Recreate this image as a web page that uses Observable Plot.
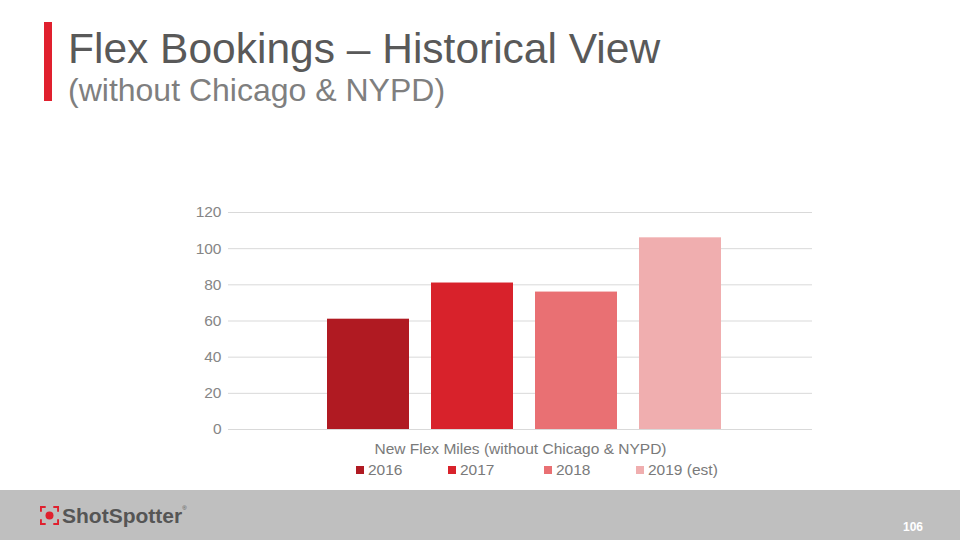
<!DOCTYPE html>
<html>
<head>
<meta charset="utf-8">
<script src="https://cdn.jsdelivr.net/npm/d3@7"></script>
<script src="https://cdn.jsdelivr.net/npm/@observablehq/plot@0.6"></script>
<style>
  html, body { margin: 0; padding: 0; }
  body { width: 960px; height: 540px; position: relative; overflow: hidden; background: #ffffff;
         font-family: "Liberation Sans", Arial, sans-serif; }
  .accent { position: absolute; left: 44px; top: 22px; width: 8px; height: 79px; background: #e0202e; }
  .title { position: absolute; left: 68px; top: 28px; font-size: 42.5px; line-height: 1; color: #595959; white-space: nowrap; }
  .subtitle { position: absolute; left: 68px; top: 74px; font-size: 32px; line-height: 1; color: #7f7f7f; white-space: nowrap; }
  #chart { position: absolute; left: 0; top: 190px; }
  .legend { position: absolute; left: 356px; top: 462px; display: flex; font-size: 15.5px; line-height: 1; color: #7a7a7a; }
  .legend .item { display: flex; align-items: center; white-space: nowrap; }
  .legend .sw { width: 8px; height: 8px; margin-right: 4px; }
  .footer { position: absolute; left: 0; top: 490px; width: 960px; height: 50px; background: #bfbfbf; }
  .logo { position: absolute; left: 40px; top: 506px; width: 19px; height: 19px; }
  .brand { position: absolute; left: 62px; top: 505px; font-size: 21px; line-height: 1; font-weight: bold; color: #555555; }
  .brand sup { font-size: 6px; font-weight: normal; vertical-align: top; }
  .page { position: absolute; left: 903px; top: 521px; font-size: 12px; line-height: 1; font-weight: bold; color: #ffffff;
          font-family: "Liberation Sans Narrow", "Liberation Sans", Arial, sans-serif; }
</style>
</head>
<body>
<div class="accent"></div>
<div class="title">Flex Bookings – Historical View</div>
<div class="subtitle">(without Chicago &amp; NYPD)</div>
<div id="chart"></div>
<div class="legend" id="legend"></div>
<div class="footer"></div>
<svg class="logo" viewBox="0 0 20 20">
  <path d="M1 6 V1 H6 M14 1 H19 V6 M19 14 V19 H14 M6 19 H1 V14" fill="none" stroke="#e0202e" stroke-width="2"/>
  <circle cx="10" cy="10" r="4.2" fill="#e0202e"/>
</svg>
<div class="brand">ShotSpotter<sup>®</sup></div>
<div class="page">106</div>
<script>
const category = ["New Flex Miles (without Chicago & NYPD)"];
const years = ["2016", "2017", "2018", "2019 (est)"];
const values = [61, 81, 76, 106];
const colors = ["#b01a22", "#d8222b", "#e97073", "#f0aeaf"];
const yTicks = [0, 20, 40, 60, 80, 100, 120];

const data = years.map((year, i) => ({ category: category[0], year, value: values[i] }));

const chart = Plot.plot({
  width: 960,
  height: 280,
  marginLeft: 228,
  marginRight: 148,
  marginTop: 22,
  marginBottom: 41,
  style: { fontFamily: "'Liberation Sans', Arial, sans-serif", fontSize: "15.5px", color: "#7a7a7a", background: "transparent" },
  fx: { domain: category, padding: 0, label: null },
  x: { domain: years, paddingInner: 0.21, paddingOuter: 0.894, align: 0.52, axis: null },
  y: { domain: [0, 120], label: null },
  color: { domain: years, range: colors },
  marks: [
    Plot.ruleY(yTicks, { stroke: "#d9d9d9", strokeWidth: 1 }),
    Plot.barY(data, { fx: "category", x: "year", y: "value", fill: "year" }),
    Plot.axisY({ ticks: yTicks, tickSize: 0, tickPadding: 7, label: null, fill: "#868686" }),
    Plot.axisFx({ anchor: "bottom", tickSize: 0, tickPadding: 13, label: null })
  ]
});
document.getElementById("chart").appendChild(chart);

const itemWidths = [92, 96, 92, 90];
const legend = document.getElementById("legend");
years.forEach((y, i) => {
  const item = document.createElement("div");
  item.className = "item";
  item.style.width = itemWidths[i] + "px";
  const sw = document.createElement("span");
  sw.className = "sw";
  sw.style.background = colors[i];
  const t = document.createElement("span");
  t.textContent = y;
  item.appendChild(sw);
  item.appendChild(t);
  legend.appendChild(item);
});
</script>
</body>
</html>
